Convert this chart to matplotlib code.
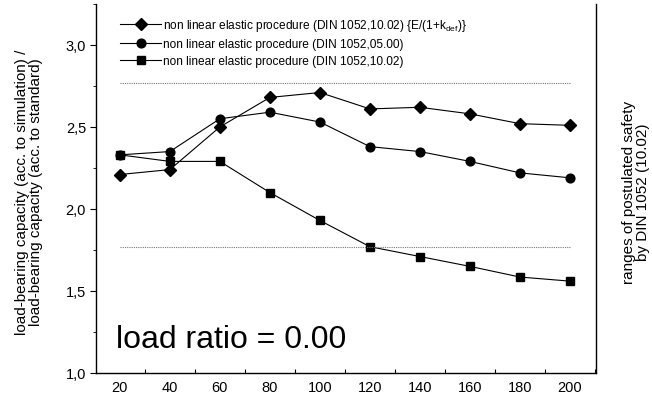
import numpy as np
import matplotlib
matplotlib.use("Agg")
import matplotlib.pyplot as plt
from matplotlib.ticker import MultipleLocator, FuncFormatter

plt.rcParams['font.family'] = ['Liberation Sans', 'DejaVu Sans']
plt.rcParams['mathtext.fontset'] = 'custom'
plt.rcParams['mathtext.rm'] = 'Liberation Sans'
plt.rcParams['mathtext.it'] = 'Liberation Sans'

# span lengths
x = [20, 40, 60, 80, 100, 120, 140, 160, 180, 200]
# capacity ratios for the three procedures
nl_kdef = [2.21, 2.24, 2.50, 2.68, 2.71, 2.61, 2.62, 2.58, 2.52, 2.51]
nl_0500 = [2.33, 2.35, 2.55, 2.59, 2.53, 2.38, 2.35, 2.29, 2.22, 2.19]
nl_1002 = [2.33, 2.29, 2.29, 2.10, 1.93, 1.77, 1.71, 1.65, 1.585, 1.56]
# safety range limits
safety_hi = 2.77
safety_lo = 1.77

labels = ["non linear elastic procedure (DIN 1052,10.02) {E/(1+k$_{\\mathregular{def}}$)}",
          "non linear elastic procedure (DIN 1052,05.00)",
          "non linear elastic procedure (DIN 1052,10.02)"]

fig = plt.figure(figsize=(6.52, 4.02), dpi=100)
ax = fig.add_axes([0.147, 0.0697, 0.767, 0.918])

ax.plot(x, nl_kdef, 'k-', marker='D', ms=5.8, lw=0.8, label=labels[0])
ax.plot(x, nl_0500, 'k-', marker='o', ms=6.3, lw=0.8, label=labels[1])
ax.plot(x, nl_1002, 'k-', marker='s', ms=6, lw=0.8, label=labels[2])

for lim in (safety_hi, safety_lo):
    ax.plot([x[0], x[-1]], [lim, lim], color='#777777', ls=(0, (1, 1)), lw=0.8)

ax.set_xlim(10.4, 210.4)
ax.set_ylim(1.0, 3.25)

ax.xaxis.set_major_locator(MultipleLocator(20))
ax.xaxis.set_minor_locator(MultipleLocator(20, offset=10))
ax.yaxis.set_major_locator(MultipleLocator(0.5))
ax.yaxis.set_minor_locator(MultipleLocator(0.25))
ax.yaxis.set_major_formatter(FuncFormatter(lambda v, p: f"{v:.1f}".replace('.', ',')))
ax.tick_params(axis='x', which='major', length=0, pad=5, labelsize=10.5)
ax.tick_params(axis='x', which='minor', direction='in', length=3, width=0.8)
ax.tick_params(axis='y', which='major', direction='out', length=4, width=0.8, pad=3, labelsize=10.5)
ax.tick_params(axis='y', which='minor', direction='out', length=2, width=0.6)

ax.spines['top'].set_visible(False)
for s in ('left', 'bottom', 'right'):
    ax.spines[s].set_linewidth(1.0)

fig.text(29 / 652, 1 - 192 / 402,
         "load-bearing capacity (acc. to simulation) /\nload-bearing capacity (acc. to standard)",
         rotation=90, ha='center', va='center', fontsize=11, linespacing=1.0)
fig.text(636 / 652, 1 - 192 / 402, "ranges of postulated safety\nby DIN 1052 (10.02)", rotation=90,
         ha='center', va='center', fontsize=11, linespacing=0.95)

ax.text(0.04, 0.07, "load ratio = 0.00", transform=ax.transAxes, fontsize=23,
        ha='left', va='baseline')

ax.legend(loc='upper left', bbox_to_anchor=(0.03, 0.99), frameon=False, fontsize=8.6,
          handlelength=3.4, handletextpad=0.2, labelspacing=0.43, borderaxespad=0.4)

fig.savefig("out.png", dpi=100)
